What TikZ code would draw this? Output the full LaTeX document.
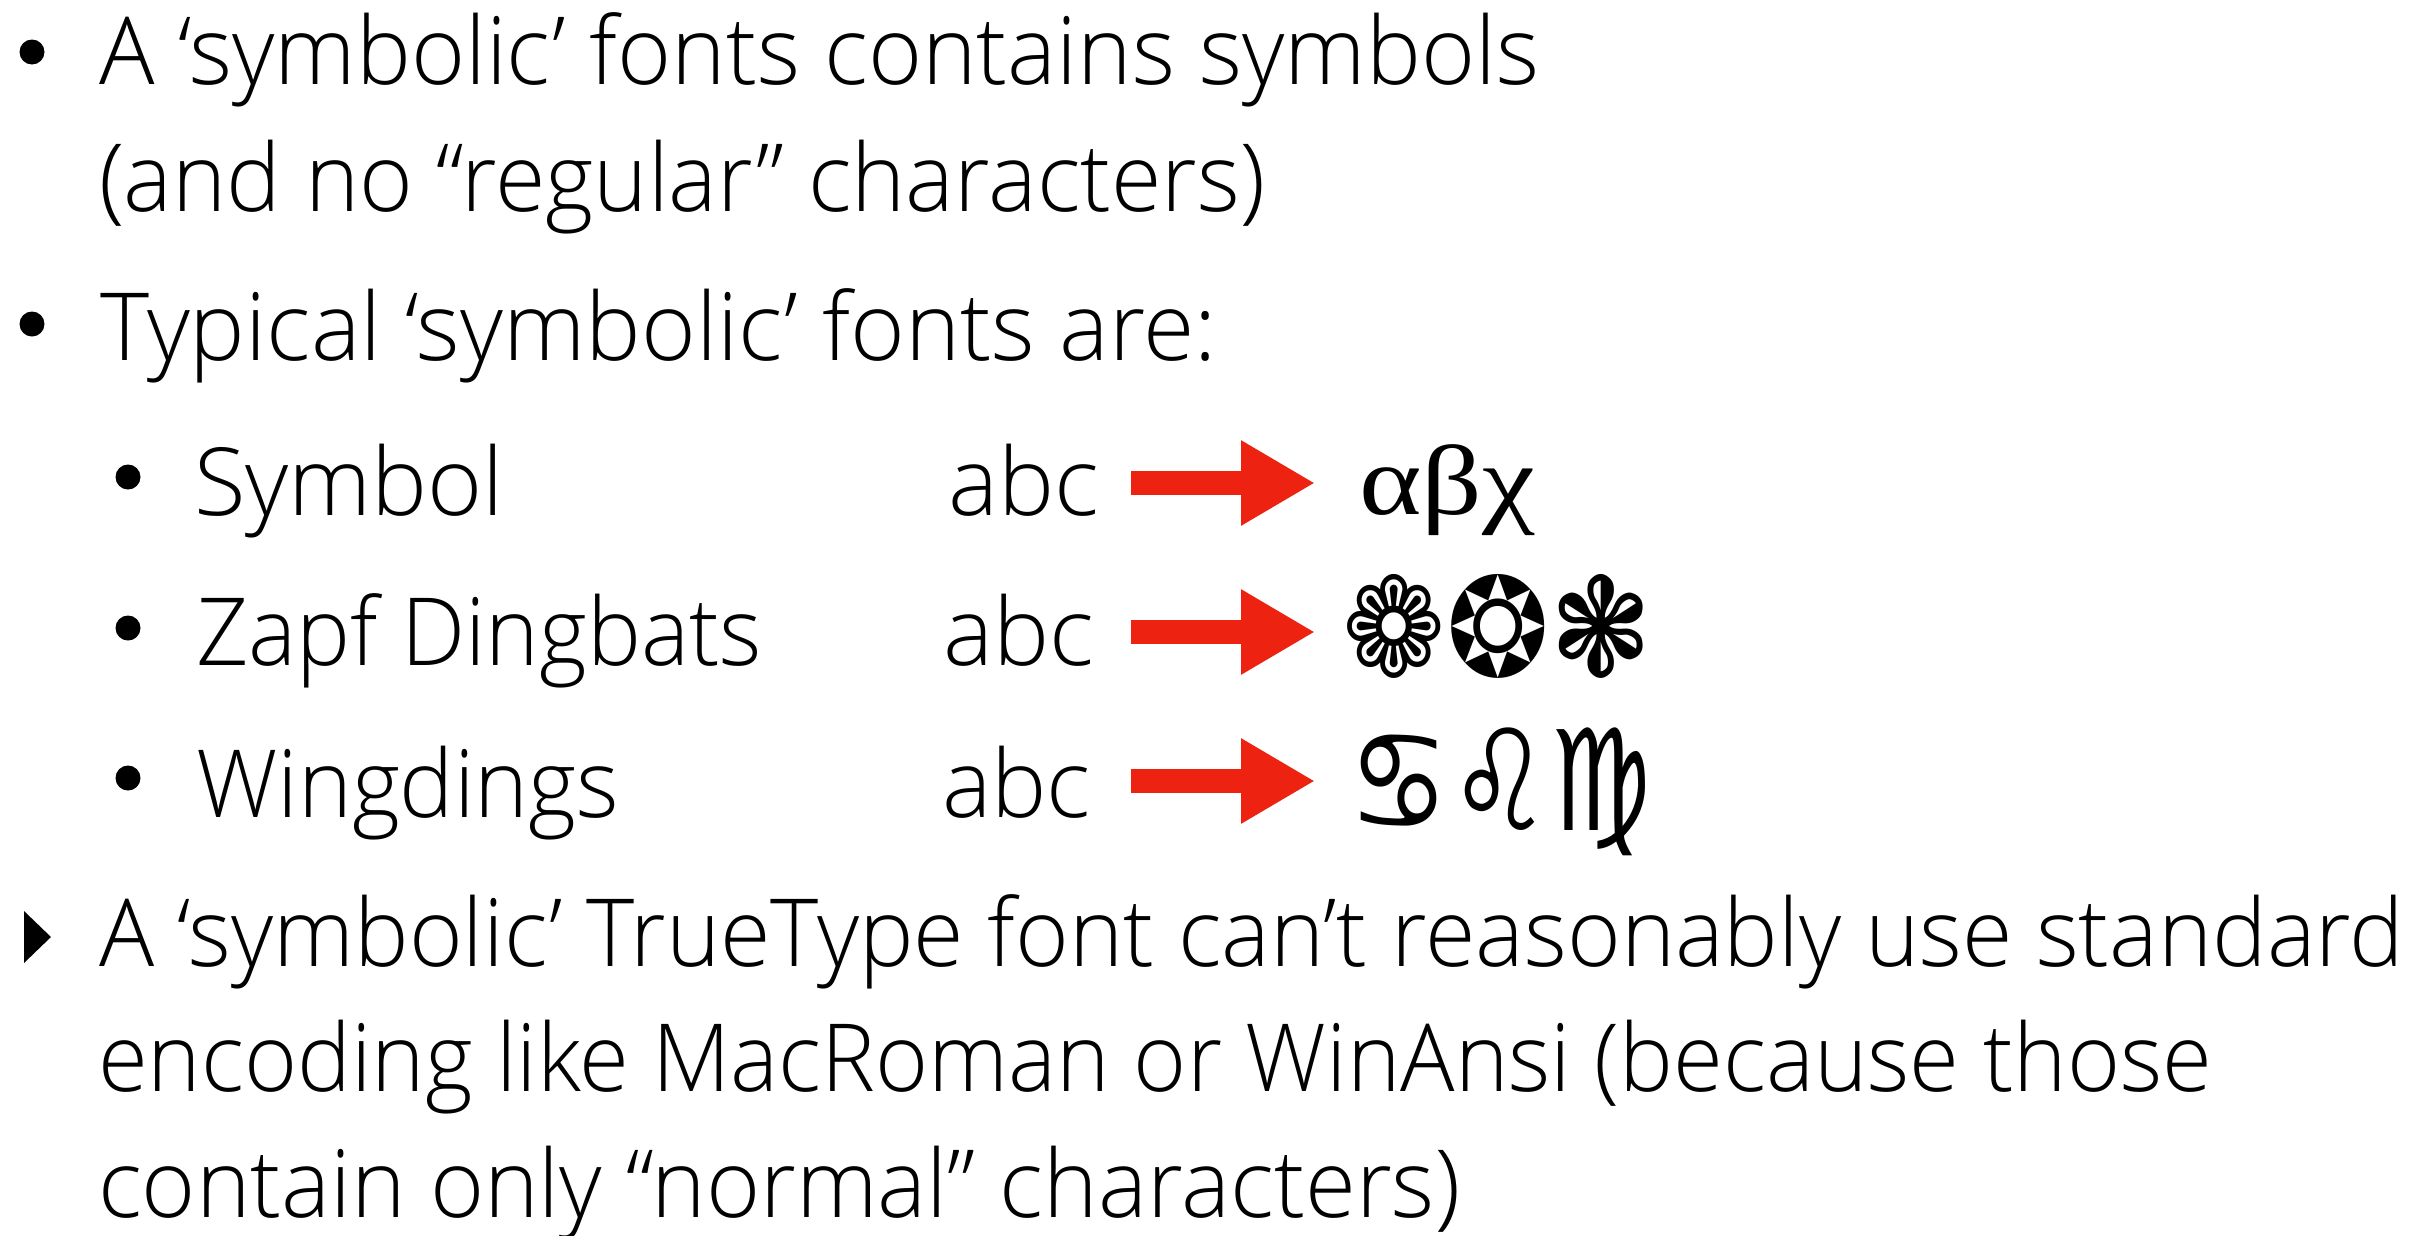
\documentclass[tikz,border=0pt]{standalone}
\usepackage{fontspec}
\usepackage{graphicx}
\setmainfont{Open Sans Light}
\newfontfamily\greekfont{Liberation Serif}
\newfontfamily\dingfont{DejaVu Sans}
\usetikzlibrary{arrows.meta}
\newdimen\px \px=0.3pt
\newcommand{\fitw}[2]{\resizebox{#1\px}{\height}{#2}}
\newcommand{\fitbox}[3]{\resizebox*{#1\px}{#2\px}{#3}}
\definecolor{arrowred}{RGB}{237,34,16}
\begin{document}
\begin{tikzpicture}[x=0.3pt,y=-0.3pt,
  every node/.style={inner sep=0pt, outer sep=0pt},
  txt/.style={anchor=base west, font=\fontsize{28.2pt}{34pt}\selectfont},
  dot/.style={circle, fill=black, minimum size=7.5pt},
  sym/.style={anchor=center},
  redarrow/.style={draw=arrowred, line width=7.2pt, -{Triangle[length=22.2pt, width=24pt]}}]
\fill[white] (0,0) rectangle (2432,1235);
\useasboundingbox (0,0) rectangle (2432,1235);

% first bullet
\node[dot] (b1) at (32,52) {};
\node[txt] (l1) at (99,85) {\fitw{1440}{A ‘symbolic’ fonts contains symbols}};
\node[txt] (l2) at (99,211) {\fitw{1166}{(and no “regular” characters)}};

% second bullet
\node[dot] (b2) at (32,324) {};
\node[txt] (l3) at (100,360) {\fitw{1117}{Typical ‘symbolic’ fonts are:}};

% sub items
\node[dot] (b3) at (128,477) {};
\node[txt] (s1) at (194,515) {\fitw{310}{Symbol}};
\node[txt] (a1) at (948,515) {\fitw{151}{abc}};
\coordinate (r1s) at (1131,483);
\coordinate (r1e) at (1315,483);
\draw[redarrow] (r1s) -- (r1e);
\node[sym] (g1) at (1447,490) {\fitbox{176}{91}{\greekfont αβχ}};

\node[dot] (b4) at (128,628) {};
\node[txt] (s2) at (196,665) {\fitw{566}{Zapf Dingbats}};
\node[txt] (a2) at (943,665) {\fitw{151}{abc}};
\coordinate (r2s) at (1131,632);
\coordinate (r2e) at (1315,632);
\draw[redarrow] (r2s) -- (r2e);
\node[sym] (g2) at (1498,626) {\fitbox{310}{104}{\dingfont ❁❂❃}};

\node[dot] (b5) at (128,778) {};
\node[txt] (s3) at (196,817) {\fitw{423}{Wingdings}};
\node[txt] (a3) at (942,817) {\fitw{149}{abc}};
\coordinate (r3s) at (1131,781);
\coordinate (r3e) at (1315,781);
\draw[redarrow] (r3s) -- (r3e);
\node[sym] (g3) at (1500,792) {\fitbox{303}{128}{\dingfont ♋♌♍}};

% last item
\fill (24,911) -- (24,963) -- (51,937) -- cycle;
\node[txt] (l5) at (99,966) {\fitw{2305}{A ‘symbolic’ TrueType font can’t reasonably use standard}};
\node[txt] (l6) at (98,1091) {\fitw{2114}{encoding like MacRoman or WinAnsi (because those}};
\node[txt] (l7) at (98,1217) {\fitw{1362}{contain only “normal” characters)}};
\end{tikzpicture}
\end{document}
